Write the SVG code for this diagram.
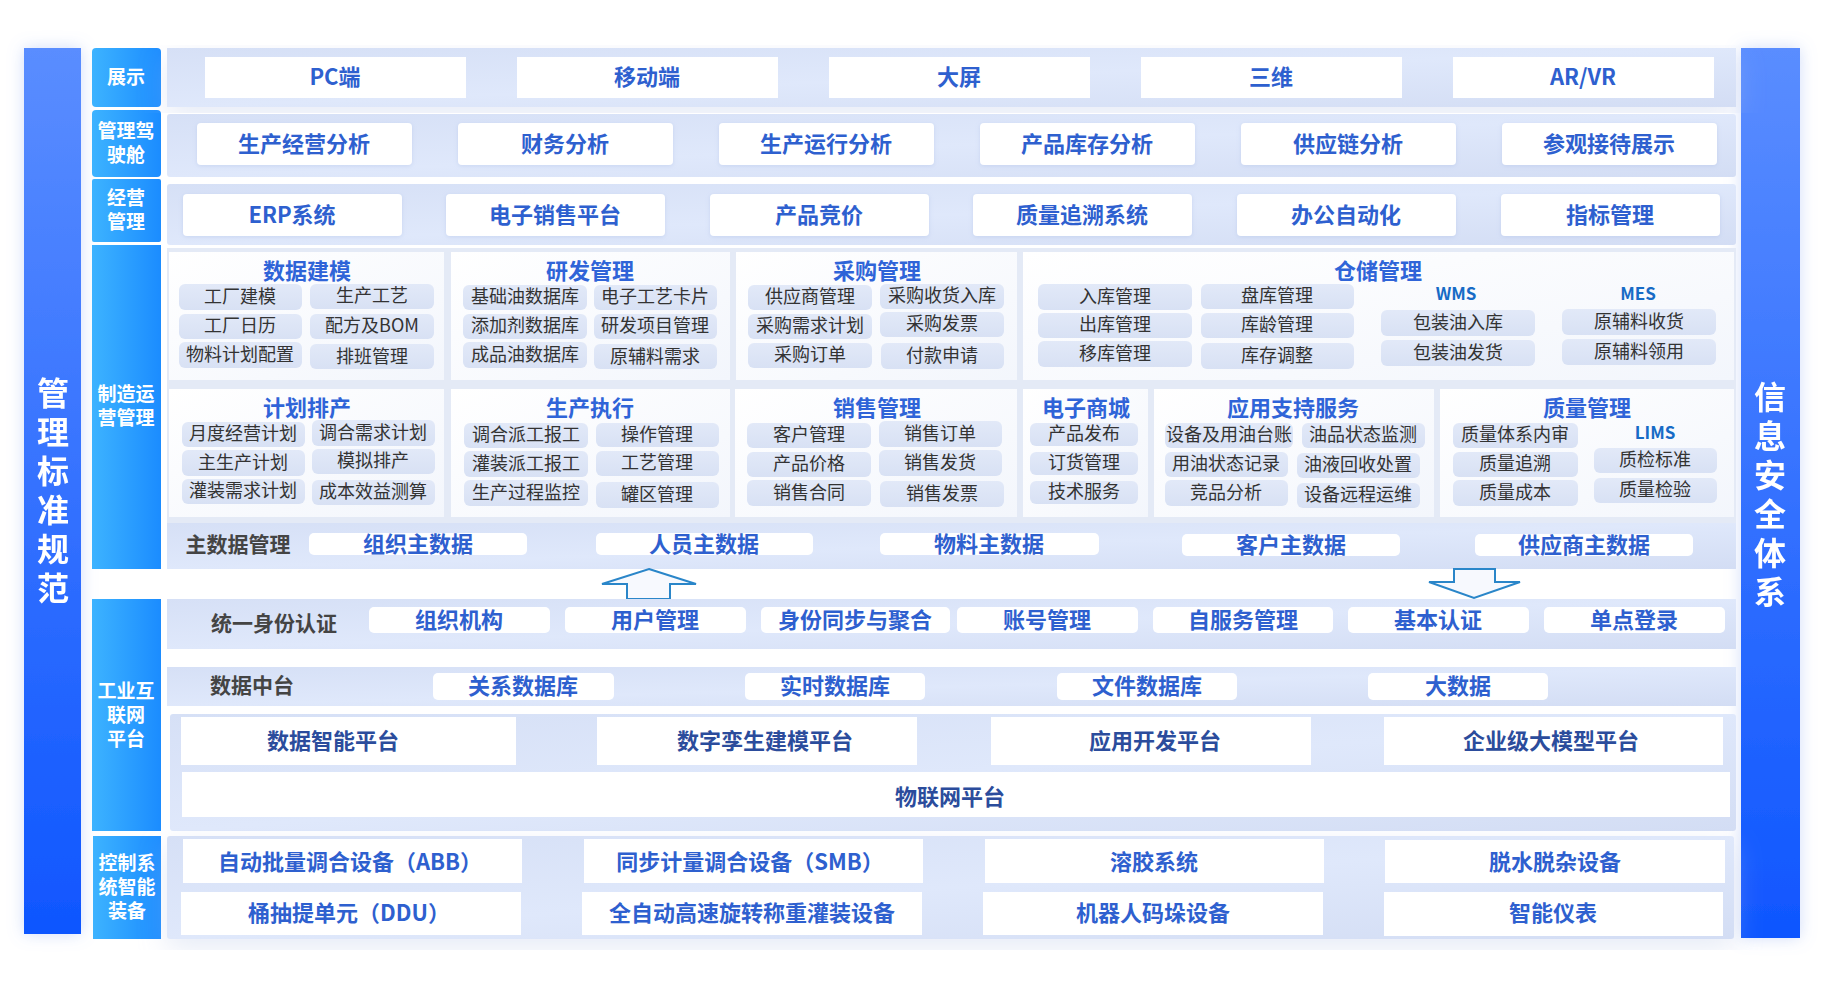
<svg xmlns="http://www.w3.org/2000/svg" width="1824" height="997" viewBox="0 0 1824 997">
<defs>
<linearGradient id="gSide" x1="0" y1="0" x2="0" y2="1"><stop offset="0" stop-color="#5a8dff"/><stop offset="1" stop-color="#0f56ff"/></linearGradient>
<linearGradient id="gLbl" x1="0" y1="0" x2="1" y2="0"><stop offset="0" stop-color="#3db3ff"/><stop offset="1" stop-color="#1b8cff"/></linearGradient>
<linearGradient id="gPanel" x1="0" y1="0" x2="1" y2="1"><stop offset="0" stop-color="#d6e0f6"/><stop offset="0.5" stop-color="#dfe8fb"/><stop offset="1" stop-color="#d3ddf4"/></linearGradient>
<linearGradient id="gMod" x1="0" y1="0" x2="1" y2="1"><stop offset="0" stop-color="#ffffff"/><stop offset="1" stop-color="#f3f6fc"/></linearGradient>
<linearGradient id="gPill" x1="0" y1="0" x2="0" y2="1"><stop offset="0" stop-color="#e2e9f8"/><stop offset="1" stop-color="#d8e1f4"/></linearGradient>
<filter id="glow" x="-50%" y="-10%" width="200%" height="120%"><feDropShadow dx="0" dy="0" stdDeviation="8" flood-color="#7d9cf0" flood-opacity="0.35"/></filter>
<filter id="sh" x="-10%" y="-30%" width="120%" height="160%"><feDropShadow dx="0" dy="1" stdDeviation="2" flood-color="#9fb3e0" flood-opacity="0.35"/></filter>
<filter id="big" x="-5%" y="-5%" width="110%" height="115%"><feDropShadow dx="0" dy="10" stdDeviation="14" flood-color="#b8c6e6" flood-opacity="0.35"/></filter>
</defs>
<style>
text{font-family:"Noto Sans CJK SC","Noto Sans",sans-serif;text-anchor:middle;dominant-baseline:central;transform:translateY(-2px)}
.side{fill:url(#gSide)}
.st{font-size:32px;font-weight:700;fill:#fff;writing-mode:vertical-rl;text-anchor:start;letter-spacing:7px;transform:none}
.lbl{fill:url(#gLbl)}
.lt{font-size:19px;font-weight:700;fill:#fff}
.panel{fill:url(#gPanel)}
.box{fill:#fff}
.bt{font-size:22px;font-weight:700;fill:#2e60cf}
.nv{font-size:22px;font-weight:700;fill:#2b4c9c}
.mod{fill:url(#gMod)}
.mt{font-size:22px;font-weight:700;fill:#2f64d8}
.pill{fill:url(#gPill)}
.pt{font-size:18px;font-weight:400;fill:#333}
.sub{font-size:17px;font-weight:700;fill:#176bc6}
.dk{font-size:21px;font-weight:700;fill:#444}
.arr{fill:#f7f9fe;stroke:#2a86c9;stroke-width:2;stroke-linejoin:miter}
</style>
<rect width="1824" height="997" fill="#ffffff"/>

<g id="sideLeft" filter="url(#glow)">
<rect class="side" x="24" y="48" width="57" height="886"/>
<text class="st" x="53" y="377">管理标准规范</text>
</g>
<g id="sideRight" filter="url(#glow)">
<rect class="side" x="1741" y="48" width="59" height="890"/>
<text class="st" x="1770" y="381">信息安全体系</text>
</g>

<g id="labels">
<g id="lbl-show"><rect class="lbl" x="92" y="48" width="69" height="59" rx="4"/><text class="lt" x="126" y="77">展示</text></g>
<g id="lbl-cockpit"><rect class="lbl" x="92" y="110" width="69" height="67" rx="4"/><text class="lt"><tspan x="126" y="131">管理驾</tspan><tspan x="126" y="155">驶舱</tspan></text></g>
<g id="lbl-biz"><rect class="lbl" x="92" y="179" width="69" height="63" rx="2"/><text class="lt"><tspan x="126" y="198">经营</tspan><tspan x="126" y="222">管理</tspan></text></g>
<g id="lbl-mfg"><rect class="lbl" x="92" y="245" width="69" height="324"/><text class="lt"><tspan x="126" y="394">制造运</tspan><tspan x="126" y="418">营管理</tspan></text></g>
<g id="lbl-iip"><rect class="lbl" x="92" y="599" width="69" height="232"/><text class="lt"><tspan x="126" y="691">工业互</tspan><tspan x="126" y="715">联网</tspan><tspan x="126" y="739">平台</tspan></text></g>
<g id="lbl-ctrl"><rect class="lbl" x="93" y="836" width="68" height="103"/><text class="lt"><tspan x="127" y="863">控制系</tspan><tspan x="127" y="887">统智能</tspan><tspan x="127" y="911">装备</tspan></text></g>
</g>

<g id="row-show">
<rect class="panel" x="167" y="48" width="1569" height="59" filter="url(#big)"/>
<g id="n-pc"><rect class="box" x="205" y="57" width="261" height="41"/><text class="bt" x="335" y="77">PC端</text></g>
<g id="n-mobile"><rect class="box" x="517" y="57" width="261" height="41"/><text class="bt" x="647" y="77">移动端</text></g>
<g id="n-screen"><rect class="box" x="829" y="57" width="261" height="41"/><text class="bt" x="959" y="77">大屏</text></g>
<g id="n-3d"><rect class="box" x="1141" y="57" width="261" height="41"/><text class="bt" x="1271" y="77">三维</text></g>
<g id="n-arvr"><rect class="box" x="1453" y="57" width="261" height="41"/><text class="bt" x="1583" y="77">AR/VR</text></g>
</g>

<g id="row-cockpit">
<rect class="panel" x="167" y="114" width="1569" height="63" rx="3"/>
<g id="n-a1"><rect class="box" x="197" y="123" width="215" height="42" rx="4" filter="url(#sh)"/><text class="bt" x="304" y="144">生产经营分析</text></g>
<g id="n-a2"><rect class="box" x="458" y="123" width="215" height="42" rx="4" filter="url(#sh)"/><text class="bt" x="565" y="144">财务分析</text></g>
<g id="n-a3"><rect class="box" x="719" y="123" width="215" height="42" rx="4" filter="url(#sh)"/><text class="bt" x="826" y="144">生产运行分析</text></g>
<g id="n-a4"><rect class="box" x="980" y="123" width="215" height="42" rx="4" filter="url(#sh)"/><text class="bt" x="1087" y="144">产品库存分析</text></g>
<g id="n-a5"><rect class="box" x="1241" y="123" width="215" height="42" rx="4" filter="url(#sh)"/><text class="bt" x="1348" y="144">供应链分析</text></g>
<g id="n-a6"><rect class="box" x="1502" y="123" width="215" height="42" rx="4" filter="url(#sh)"/><text class="bt" x="1609" y="144">参观接待展示</text></g>
</g>

<g id="row-biz">
<rect class="panel" x="167" y="184" width="1569" height="61" rx="3"/>
<g id="n-b1"><rect class="box" x="183" y="194" width="219" height="42" rx="4" filter="url(#sh)"/><text class="bt" x="292" y="215">ERP系统</text></g>
<g id="n-b2"><rect class="box" x="446" y="194" width="219" height="42" rx="4" filter="url(#sh)"/><text class="bt" x="555" y="215">电子销售平台</text></g>
<g id="n-b3"><rect class="box" x="710" y="194" width="219" height="42" rx="4" filter="url(#sh)"/><text class="bt" x="819" y="215">产品竞价</text></g>
<g id="n-b4"><rect class="box" x="973" y="194" width="219" height="42" rx="4" filter="url(#sh)"/><text class="bt" x="1082" y="215">质量追溯系统</text></g>
<g id="n-b5"><rect class="box" x="1237" y="194" width="219" height="42" rx="4" filter="url(#sh)"/><text class="bt" x="1346" y="215">办公自动化</text></g>
<g id="n-b6"><rect class="box" x="1501" y="194" width="219" height="42" rx="4" filter="url(#sh)"/><text class="bt" x="1610" y="215">指标管理</text></g>
</g>

<g id="row-mfg">
<rect x="167" y="248" width="1569" height="321" fill="#e4eaf6"/>

<g id="m-model">
<rect class="mod" x="169" y="252" width="275" height="128"/>
<text class="mt" x="307" y="271">数据建模</text>
<rect class="pill" x="179" y="284" width="123" height="26" rx="6"/><text class="pt" x="240" y="297">工厂建模</text>
<rect class="pill" x="310" y="284" width="124" height="25" rx="6"/><text class="pt" x="372" y="296">生产工艺</text>
<rect class="pill" x="179" y="314" width="123" height="25" rx="6"/><text class="pt" x="240" y="326">工厂日历</text>
<rect class="pill" x="310" y="314" width="124" height="25" rx="6"/><text class="pt" x="372" y="326">配方及BOM</text>
<rect class="pill" x="179" y="342" width="123" height="26" rx="6"/><text class="pt" x="240" y="355">物料计划配置</text>
<rect class="pill" x="310" y="344" width="124" height="25" rx="6"/><text class="pt" x="372" y="357">排班管理</text>
</g>

<g id="m-rd">
<rect class="mod" x="451" y="252" width="279" height="128"/>
<text class="mt" x="590" y="271">研发管理</text>
<rect class="pill" x="463" y="285" width="124" height="25" rx="6"/><text class="pt" x="525" y="297">基础油数据库</text>
<rect class="pill" x="594" y="285" width="123" height="25" rx="6"/><text class="pt" x="655" y="297">电子工艺卡片</text>
<rect class="pill" x="463" y="314" width="124" height="25" rx="6"/><text class="pt" x="525" y="326">添加剂数据库</text>
<rect class="pill" x="594" y="314" width="123" height="25" rx="6"/><text class="pt" x="655" y="326">研发项目管理</text>
<rect class="pill" x="463" y="342" width="124" height="26" rx="6"/><text class="pt" x="525" y="355">成品油数据库</text>
<rect class="pill" x="594" y="344" width="123" height="25" rx="6"/><text class="pt" x="655" y="357">原辅料需求</text>
</g>

<g id="m-purchase">
<rect class="mod" x="736" y="252" width="281" height="128"/>
<text class="mt" x="877" y="271">采购管理</text>
<rect class="pill" x="748" y="285" width="124" height="25" rx="6"/><text class="pt" x="810" y="297">供应商管理</text>
<rect class="pill" x="880" y="284" width="124" height="25" rx="6"/><text class="pt" x="942" y="296">采购收货入库</text>
<rect class="pill" x="748" y="314" width="124" height="25" rx="6"/><text class="pt" x="810" y="326">采购需求计划</text>
<rect class="pill" x="880" y="312" width="124" height="25" rx="6"/><text class="pt" x="942" y="324">采购发票</text>
<rect class="pill" x="748" y="343" width="124" height="25" rx="6"/><text class="pt" x="810" y="355">采购订单</text>
<rect class="pill" x="881" y="343" width="123" height="26" rx="6"/><text class="pt" x="942" y="356">付款申请</text>
</g>

<g id="m-storage">
<rect class="mod" x="1023" y="252" width="711" height="128"/>
<text class="mt" x="1378" y="271">仓储管理</text>
<rect class="pill" x="1038" y="284" width="154" height="26" rx="6"/><text class="pt" x="1115" y="297">入库管理</text>
<rect class="pill" x="1201" y="284" width="153" height="25" rx="6"/><text class="pt" x="1277" y="296">盘库管理</text>
<rect class="pill" x="1038" y="313" width="154" height="25" rx="6"/><text class="pt" x="1115" y="325">出库管理</text>
<rect class="pill" x="1201" y="313" width="153" height="25" rx="6"/><text class="pt" x="1277" y="325">库龄管理</text>
<rect class="pill" x="1038" y="341" width="154" height="26" rx="6"/><text class="pt" x="1115" y="354">移库管理</text>
<rect class="pill" x="1201" y="343" width="153" height="26" rx="6"/><text class="pt" x="1277" y="356">库存调整</text>
<text class="sub" x="1456" y="294">WMS</text>
<rect class="pill" x="1381" y="310" width="154" height="26" rx="6"/><text class="pt" x="1458" y="323">包装油入库</text>
<rect class="pill" x="1381" y="340" width="154" height="26" rx="6"/><text class="pt" x="1458" y="353">包装油发货</text>
<text class="sub" x="1638" y="294">MES</text>
<rect class="pill" x="1562" y="309" width="154" height="26" rx="6"/><text class="pt" x="1639" y="322">原辅料收货</text>
<rect class="pill" x="1562" y="339" width="154" height="26" rx="6"/><text class="pt" x="1639" y="352">原辅料领用</text>
</g>

<g id="m-plan">
<rect class="mod" x="169" y="389" width="275" height="128"/>
<text class="mt" x="307" y="408">计划排产</text>
<rect class="pill" x="182" y="422" width="123" height="25" rx="6"/><text class="pt" x="243" y="434">月度经营计划</text>
<rect class="pill" x="312" y="420" width="123" height="26" rx="6"/><text class="pt" x="373" y="433">调合需求计划</text>
<rect class="pill" x="182" y="450" width="123" height="26" rx="6"/><text class="pt" x="243" y="463">主生产计划</text>
<rect class="pill" x="312" y="449" width="123" height="25" rx="6"/><text class="pt" x="373" y="461">模拟排产</text>
<rect class="pill" x="182" y="479" width="123" height="25" rx="6"/><text class="pt" x="243" y="491">灌装需求计划</text>
<rect class="pill" x="312" y="480" width="123" height="25" rx="6"/><text class="pt" x="373" y="492">成本效益测算</text>
</g>

<g id="m-exec">
<rect class="mod" x="451" y="389" width="279" height="128"/>
<text class="mt" x="590" y="408">生产执行</text>
<rect class="pill" x="464" y="423" width="124" height="25" rx="6"/><text class="pt" x="526" y="435">调合派工报工</text>
<rect class="pill" x="596" y="423" width="123" height="24" rx="6"/><text class="pt" x="657" y="435">操作管理</text>
<rect class="pill" x="464" y="451" width="124" height="26" rx="6"/><text class="pt" x="526" y="464">灌装派工报工</text>
<rect class="pill" x="596" y="451" width="123" height="25" rx="6"/><text class="pt" x="657" y="463">工艺管理</text>
<rect class="pill" x="464" y="480" width="124" height="26" rx="6"/><text class="pt" x="526" y="493">生产过程监控</text>
<rect class="pill" x="596" y="482" width="123" height="26" rx="6"/><text class="pt" x="657" y="495">罐区管理</text>
</g>

<g id="m-sales">
<rect class="mod" x="735" y="389" width="282" height="128"/>
<text class="mt" x="877" y="408">销售管理</text>
<rect class="pill" x="747" y="423" width="124" height="25" rx="6"/><text class="pt" x="809" y="435">客户管理</text>
<rect class="pill" x="879" y="421" width="123" height="26" rx="6"/><text class="pt" x="940" y="434">销售订单</text>
<rect class="pill" x="747" y="452" width="124" height="25" rx="6"/><text class="pt" x="809" y="464">产品价格</text>
<rect class="pill" x="879" y="450" width="123" height="26" rx="6"/><text class="pt" x="940" y="463">销售发货</text>
<rect class="pill" x="747" y="480" width="124" height="26" rx="6"/><text class="pt" x="809" y="493">销售合同</text>
<rect class="pill" x="880" y="481" width="124" height="26" rx="6"/><text class="pt" x="942" y="494">销售发票</text>
</g>

<g id="m-mall">
<rect class="mod" x="1023" y="389" width="125" height="128"/>
<text class="mt" x="1086" y="408">电子商城</text>
<rect class="pill" x="1030" y="423" width="108" height="23" rx="6"/><text class="pt" x="1084" y="434">产品发布</text>
<rect class="pill" x="1030" y="452" width="108" height="23" rx="6"/><text class="pt" x="1084" y="463">订货管理</text>
<rect class="pill" x="1030" y="481" width="108" height="23" rx="6"/><text class="pt" x="1084" y="492">技术服务</text>
</g>

<g id="m-support">
<rect class="mod" x="1154" y="389" width="280" height="128"/>
<text class="mt" x="1293" y="408">应用支持服务</text>
<rect class="pill" x="1165" y="423" width="128" height="25" rx="6"/><text class="pt" x="1229" y="435">设备及用油台账</text>
<rect class="pill" x="1302" y="423" width="123" height="25" rx="6"/><text class="pt" x="1363" y="435">油品状态监测</text>
<rect class="pill" x="1165" y="452" width="123" height="25" rx="6"/><text class="pt" x="1226" y="464">用油状态记录</text>
<rect class="pill" x="1297" y="453" width="123" height="25" rx="6"/><text class="pt" x="1358" y="465">油液回收处置</text>
<rect class="pill" x="1165" y="480" width="123" height="26" rx="6"/><text class="pt" x="1226" y="493">竞品分析</text>
<rect class="pill" x="1297" y="483" width="123" height="25" rx="6"/><text class="pt" x="1358" y="495">设备远程运维</text>
</g>

<g id="m-quality">
<rect class="mod" x="1440" y="389" width="294" height="128"/>
<text class="mt" x="1587" y="408">质量管理</text>
<rect class="pill" x="1453" y="423" width="125" height="25" rx="6"/><text class="pt" x="1515" y="435">质量体系内审</text>
<rect class="pill" x="1453" y="452" width="125" height="25" rx="6"/><text class="pt" x="1515" y="464">质量追溯</text>
<rect class="pill" x="1453" y="480" width="125" height="26" rx="6"/><text class="pt" x="1515" y="493">质量成本</text>
<text class="sub" x="1655" y="433">LIMS</text>
<rect class="pill" x="1594" y="448" width="123" height="25" rx="6"/><text class="pt" x="1655" y="460">质检标准</text>
<rect class="pill" x="1594" y="478" width="123" height="25" rx="6"/><text class="pt" x="1655" y="490">质量检验</text>
</g>

<g id="masterdata">
<rect class="panel" x="167" y="523" width="1569" height="46"/>
<text class="dk" x="238" y="545">主数据管理</text>
<g id="n-md1"><rect class="box" x="309" y="533" width="218" height="22" rx="5"/><text class="bt" x="418" y="544">组织主数据</text></g>
<g id="n-md2"><rect class="box" x="596" y="533" width="217" height="22" rx="5"/><text class="bt" x="704" y="544">人员主数据</text></g>
<g id="n-md3"><rect class="box" x="880" y="533" width="219" height="22" rx="5"/><text class="bt" x="989" y="544">物料主数据</text></g>
<g id="n-md4"><rect class="box" x="1182" y="534" width="218" height="22" rx="5"/><text class="bt" x="1291" y="545">客户主数据</text></g>
<g id="n-md5"><rect class="box" x="1475" y="534" width="218" height="22" rx="5"/><text class="bt" x="1584" y="545">供应商主数据</text></g>
</g>
</g>

<g id="connectors">
<polygon class="arr" points="649,569 696,584 670,584 670,599 627,599 627,584 602,584"/>
<polygon class="arr" points="1454,569 1495,569 1495,582 1520,582 1474,598 1429,582 1454,582"/>
</g>

<g id="row-iip">
<g id="idauth">
<rect class="panel" x="167" y="599" width="1569" height="50"/>
<text class="dk" x="274" y="624">统一身份认证</text>
<g id="n-i1"><rect class="box" x="369" y="607" width="181" height="26" rx="5"/><text class="bt" x="459" y="620">组织机构</text></g>
<g id="n-i2"><rect class="box" x="565" y="607" width="181" height="26" rx="5"/><text class="bt" x="655" y="620">用户管理</text></g>
<g id="n-i3"><rect class="box" x="761" y="607" width="189" height="26" rx="5"/><text class="bt" x="855" y="620">身份同步与聚合</text></g>
<g id="n-i4"><rect class="box" x="957" y="607" width="181" height="26" rx="5"/><text class="bt" x="1047" y="620">账号管理</text></g>
<g id="n-i5"><rect class="box" x="1153" y="607" width="180" height="26" rx="5"/><text class="bt" x="1243" y="620">自服务管理</text></g>
<g id="n-i6"><rect class="box" x="1348" y="607" width="181" height="26" rx="5"/><text class="bt" x="1438" y="620">基本认证</text></g>
<g id="n-i7"><rect class="box" x="1544" y="607" width="181" height="26" rx="5"/><text class="bt" x="1634" y="620">单点登录</text></g>
</g>
<g id="datahub">
<rect class="panel" x="167" y="667" width="1569" height="39"/>
<text class="dk" x="252" y="686">数据中台</text>
<g id="n-d1"><rect class="box" x="433" y="673" width="181" height="27" rx="5"/><text class="bt" x="523" y="686">关系数据库</text></g>
<g id="n-d2"><rect class="box" x="745" y="673" width="180" height="27" rx="5"/><text class="bt" x="835" y="686">实时数据库</text></g>
<g id="n-d3"><rect class="box" x="1057" y="673" width="180" height="27" rx="5"/><text class="bt" x="1147" y="686">文件数据库</text></g>
<g id="n-d4"><rect class="box" x="1368" y="673" width="180" height="27" rx="5"/><text class="bt" x="1458" y="686">大数据</text></g>
</g>
<g id="platforms">
<rect class="panel" x="170" y="714" width="1566" height="117" rx="3"/>
<g id="n-p1"><rect class="box" x="181" y="717" width="335" height="48"/><text class="nv" x="333" y="741">数据智能平台</text></g>
<g id="n-p2"><rect class="box" x="597" y="717" width="320" height="48"/><text class="nv" x="765" y="741">数字孪生建模平台</text></g>
<g id="n-p3"><rect class="box" x="991" y="717" width="320" height="48"/><text class="nv" x="1155" y="741">应用开发平台</text></g>
<g id="n-p4"><rect class="box" x="1384" y="717" width="339" height="48"/><text class="nv" x="1551" y="741">企业级大模型平台</text></g>
<g id="n-iot"><rect class="box" x="182" y="772" width="1548" height="45"/><text class="nv" x="950" y="797">物联网平台</text></g>
</g>
</g>

<g id="row-ctrl">
<rect class="panel" x="167" y="836" width="1567" height="103" rx="3" filter="url(#big)"/>
<g id="n-c1"><rect class="box" x="183" y="839" width="339" height="44"/><text class="bt" x="350" y="862">自动批量调合设备（ABB）</text></g>
<g id="n-c2"><rect class="box" x="181" y="892" width="340" height="43"/><text class="bt" x="349" y="913">桶抽提单元（DDU）</text></g>
<g id="n-c3"><rect class="box" x="584" y="839" width="339" height="44"/><text class="bt" x="750" y="862">同步计量调合设备（SMB）</text></g>
<g id="n-c4"><rect class="box" x="582" y="892" width="340" height="43"/><text class="bt" x="752" y="913">全自动高速旋转称重灌装设备</text></g>
<g id="n-c5"><rect class="box" x="985" y="839" width="339" height="44"/><text class="bt" x="1154" y="862">溶胶系统</text></g>
<g id="n-c6"><rect class="box" x="983" y="892" width="340" height="43"/><text class="bt" x="1153" y="913">机器人码垛设备</text></g>
<g id="n-c7"><rect class="box" x="1385" y="840" width="340" height="43"/><text class="bt" x="1555" y="862">脱水脱杂设备</text></g>
<g id="n-c8"><rect class="box" x="1384" y="892" width="339" height="44"/><text class="bt" x="1553" y="913">智能仪表</text></g>
</g>
</svg>
